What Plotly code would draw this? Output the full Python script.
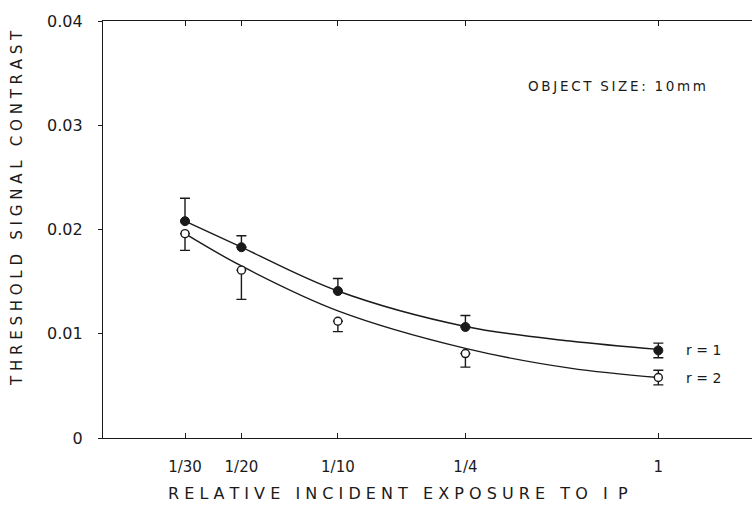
import plotly.graph_objects as go

# Relative incident exposure (fraction of the reference exposure)
exposure = [1/30, 1/20, 1/10, 1/4, 1]
tick_vals = [1/30, 1/20, 1/10, 1/4, 1]
tick_text = ["1/30", "1/20", "1/10", "1/4", "1"]

# Measured threshold contrast, r = 1 (filled) and r = 2 (open)
contrast_r1 = [0.0208, 0.0183, 0.0141, 0.01065, 0.0084]
err_up_r1 = [0.0022, 0.0011, 0.0012, 0.0011, 0.0007]
err_down_r1 = [0.0, 0.0, 0.0, 0.0, 0.0007]

contrast_r2 = [0.0196, 0.0161, 0.0112, 0.0081, 0.0058]
err_up_r2 = [0.0, 0.0, 0.0, 0.0, 0.0007]
err_down_r2 = [0.0016, 0.0028, 0.0010, 0.0013, 0.0007]

# Fitted curves through the measurements
curve_x = [1/30, 1/20, 1/10, 1/4, 0.53, 1]
curve_r1 = [0.0208, 0.0183, 0.0141, 0.0107, 0.0093, 0.0085]
curve_r2 = [0.0196, 0.0165, 0.0122, 0.0086, 0.0067, 0.0058]

y_tick_vals = [0, 0.01, 0.02, 0.03, 0.04]
y_tick_text = ["0", "0.01", "0.02", "0.03", "0.04"]

INK = "#1a1a1a"
FONT = "DejaVu Sans"

fig = go.Figure()

for cy in (curve_r1, curve_r2):
    fig.add_trace(go.Scatter(
        x=curve_x, y=cy, mode="lines",
        line=dict(color=INK, width=1.4, shape="spline", smoothing=1.0),
        hoverinfo="skip", showlegend=False,
    ))

fig.add_trace(go.Scatter(
    x=exposure, y=contrast_r1, mode="markers", name="r = 1",
    marker=dict(symbol="circle", size=9, color=INK, line=dict(color=INK, width=1)),
    error_y=dict(type="data", symmetric=False, array=err_up_r1, arrayminus=err_down_r1,
                 color=INK, thickness=1.4, width=5),
    showlegend=False,
))
fig.add_trace(go.Scatter(
    x=exposure, y=contrast_r2, mode="markers", name="r = 2",
    marker=dict(symbol="circle", size=8, color="white", line=dict(color=INK, width=1.4)),
    error_y=dict(type="data", symmetric=False, array=err_up_r2, arrayminus=err_down_r2,
                 color=INK, thickness=1.4, width=5),
    showlegend=False,
))

# Series labels beside the last points
for val, txt in ((contrast_r1[-1], "r = 1"), (contrast_r2[-1], "r = 2")):
    fig.add_annotation(
        x=0, xref="x", y=val, yref="y", text=txt, showarrow=False,
        xanchor="left", xshift=26, font=dict(family=FONT, size=14, color=INK),
    )

fig.add_annotation(
    x=0.932, xref="paper", y=0.0338, yref="y",
    text="O\u2009B\u2009J\u2009E\u2009C\u2009T  S\u2009I\u2009Z\u2009E\u2009:  1\u20090\u2009m\u2009m",
    showarrow=False, xanchor="right", yanchor="middle",
    font=dict(family=FONT, size=13.5, color=INK),
)

# Axis titles
fig.add_annotation(
    x=0.4538, xref="paper", y=-0.132, yref="paper",
    text="R E L A T I V E   I N C I D E N T   E X P O S U R E   T O   I  P",
    showarrow=False, xanchor="center", yanchor="middle",
    font=dict(family=FONT, size=16, color=INK),
)
fig.add_annotation(
    x=-0.1325, xref="paper", y=0.5516, yref="paper",
    text="T H R E S H O L D   S I G N A L   C O N T R A S T",
    textangle=-90, showarrow=False, xanchor="center", yanchor="middle",
    font=dict(family=FONT, size=15, color=INK),
)

fig.update_xaxes(
    type="log", range=[-1.733, 0.2923],
    tickvals=tick_vals, ticktext=tick_text,
    ticks="inside", ticklen=5, tickwidth=1.2, tickcolor=INK,
    showline=True, linecolor=INK, linewidth=1.4, mirror="ticks",
    showgrid=False, zeroline=False, ticklabelstandoff=15,
    tickfont=dict(family=FONT, size=15, color=INK),
)
fig.update_yaxes(
    range=[0, 0.04],
    tickvals=y_tick_vals, ticktext=y_tick_text,
    ticks="outside", ticklen=4, tickwidth=1.2, tickcolor=INK,
    showline=True, linecolor=INK, linewidth=1.4, mirror=False,
    showgrid=False, zeroline=False, ticklabelstandoff=12,
    tickfont=dict(family=FONT, size=16, color=INK),
)

fig.update_layout(
    width=752, height=508,
    margin=dict(l=103, r=0, t=21, b=70),
    paper_bgcolor="white", plot_bgcolor="white",
)

fig.write_html("out.html")
